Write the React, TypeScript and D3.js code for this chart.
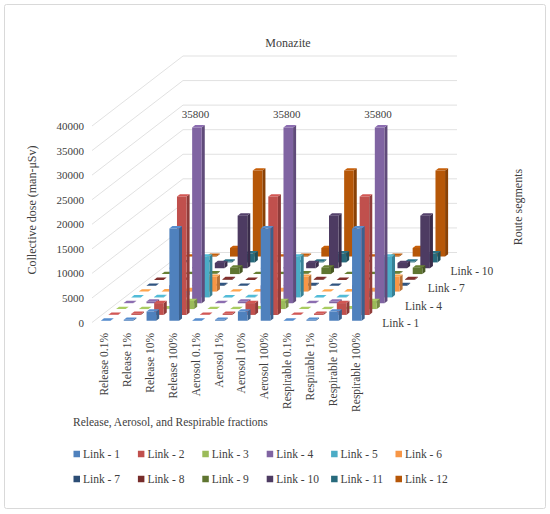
import * as d3 from 'd3'

const categories = [
  'Release 0.1%', 'Release 1%', 'Release 10%', 'Release 100%',
  'Aerosol 0.1%', 'Aerosol 1%', 'Aerosol 10%', 'Aerosol 100%',
  'Respirable 0.1%', 'Respirable 1%', 'Respirable 10%', 'Respirable 100%',
]

const links = [
  'Link - 1', 'Link - 2', 'Link - 3', 'Link - 4', 'Link - 5', 'Link - 6',
  'Link - 7', 'Link - 8', 'Link - 9', 'Link - 10', 'Link - 11', 'Link - 12',
]

// collective dose (man-µSv), one value per category
const link1 = [18.8, 188, 1880, 18800, 18.8, 188, 1880, 18800, 18.8, 188, 1880, 18800]
const link2 = [24.1, 241, 2410, 24100, 24.1, 241, 2410, 24100, 24.1, 241, 2410, 24100]
const link3 = [1.65, 16.5, 165, 1650, 1.65, 16.5, 165, 1650, 1.65, 16.5, 165, 1650]
const link4 = [35.8, 358, 3580, 35800, 35.8, 358, 3580, 35800, 35.8, 358, 3580, 35800]
const link5 = [8.3, 83, 830, 8300, 8.3, 83, 830, 8300, 8.3, 83, 830, 8300]
const link6 = [3, 30, 300, 3000, 3, 30, 300, 3000, 3, 30, 300, 3000]
const link7 = [0.15, 1.5, 15, 150, 0.15, 1.5, 15, 150, 0.15, 1.5, 15, 150]
const link8 = [0.15, 1.5, 15, 150, 0.15, 1.5, 15, 150, 0.15, 1.5, 15, 150]
const link9 = [1.3, 13, 130, 1300, 1.3, 13, 130, 1300, 1.3, 13, 130, 1300]
const link10 = [10.7, 107, 1070, 10700, 10.7, 107, 1070, 10700, 10.7, 107, 1070, 10700]
const link11 = [1.85, 18.5, 185, 1850, 1.85, 18.5, 185, 1850, 1.85, 18.5, 185, 1850]
const link12 = [17.5, 175, 1750, 17500, 17.5, 175, 1750, 17500, 17.5, 175, 1750, 17500]

const series = [link1, link2, link3, link4, link5, link6, link7, link8, link9, link10, link11, link12]

const linkColors = [
  '#4F81BD', '#C0504D', '#9BBB59', '#8064A2', '#4BACC6', '#F79646',
  '#2C4D75', '#772C2A', '#5F7530', '#4D3B62', '#276A7C', '#B65708',
]

const yTicks = [0, 5000, 10000, 15000, 20000, 25000, 30000, 35000, 40000]

const W = 550
const H = 514
const floor = { x: 92, y: 322.5, width: 274 }
const depth = { dx: 91, dy: -70 }
const plotHeight = 196.5
const font = '"Liberation Serif", "Times New Roman", serif'
const textColor = '#404040'

export default function App() {
  const x = d3.scaleBand().domain(categories).range([0, floor.width]).paddingInner(0.58).paddingOuter(0.29)
  const z = d3.scaleBand().domain(links).range([0, 1]).paddingInner(0.6).paddingOuter(0.3)
  const y = d3.scaleLinear().domain([0, 40000]).range([0, plotHeight])

  const proj = (px: number, pz: number, v: number): [number, number] => [
    floor.x + px + pz * depth.dx,
    floor.y - y(v) + pz * depth.dy,
  ]
  const poly = (pts: [number, number][]) => pts.map((p) => p.join(',')).join(' ')

  const bw = x.bandwidth()
  const zb = z.bandwidth()

  // back to front, left to right
  const bars: JSX.Element[] = []
  const labels: JSX.Element[] = []
  for (let li = links.length - 1; li >= 0; li--) {
    const color = d3.color(linkColors[li])!
    const side = color.darker(0.8).formatHex()
    const top = color.brighter(0.25).formatHex()
    categories.forEach((c, ci) => {
      const v = series[li][ci]
      const x0 = x(c)!
      const x1 = x0 + bw
      const z0 = z(links[li])!
      const z1 = z0 + zb
      bars.push(
        <g key={`${li}-${ci}`}>
          <polygon points={poly([proj(x1, z0, 0), proj(x1, z1, 0), proj(x1, z1, v), proj(x1, z0, v)])} fill={side} />
          <polygon points={poly([proj(x0, z0, v), proj(x1, z0, v), proj(x1, z1, v), proj(x0, z1, v)])} fill={top} />
          <polygon points={poly([proj(x0, z0, 0), proj(x1, z0, 0), proj(x1, z0, v), proj(x0, z0, v)])} fill={linkColors[li]} />
        </g>,
      )
      if (v >= 30000) {
        const p = proj(x0 + bw / 2, z0, v)
        labels.push(
          <text key={`l${li}-${ci}`} x={p[0] - 1.5} y={p[1] - 9} textAnchor="middle" fontSize={11} fill={textColor}>
            {d3.format('d')(v)}
          </text>,
        )
      }
    })
  }

  return (
    <svg
      width={W}
      height={H}
      viewBox={`0 0 ${W} ${H}`}
      style={{ position: 'absolute', left: 0, top: 0, background: '#fff' }}
      fontFamily={font}
    >
      <rect x={4.5} y={4.5} width={541} height={504} fill="#fff" stroke="#d9d9d9" strokeWidth={1} rx={2} />

      <text x={288} y={43} textAnchor="middle" dominantBaseline="central" fontSize={12} fill={textColor}>
        Monazite
      </text>

      {/* side and back wall gridlines */}
      <g stroke="#d9d9d9" strokeWidth={0.8} fill="none">
        {yTicks.map((t) => {
          const a = proj(0, 0, t)
          const b = proj(0, 1, t)
          const c = proj(floor.width, 1, t)
          return <polyline key={t} points={poly([a, b, c])} />
        })}
      </g>

      {yTicks.map((t) => (
        <text key={t} x={84} y={floor.y - y(t)} textAnchor="end" dominantBaseline="central" fontSize={11} fill={textColor}>
          {t}
        </text>
      ))}

      <g>{bars}</g>
      <g>{labels}</g>

      {categories.map((c) => {
        const cx = floor.x + x(c)! + bw / 2 + 1
        return (
          <text
            key={c}
            x={cx}
            y={333}
            transform={`rotate(-90, ${cx}, 333)`}
            textAnchor="end"
            dominantBaseline="central"
            fontSize={11.5}
            fill={textColor}
          >
            {c}
          </text>
        )
      })}

      {links.map((l, i) => {
        if (i % 3 !== 0) return null
        const p = proj(floor.width, z(l)! + zb / 2, 0)
        return (
          <text key={l} x={p[0] + 12.5} y={p[1] + 3.5} dominantBaseline="central" fontSize={11.5} fill={textColor}>
            {l}
          </text>
        )
      })}

      <text x={32} y={210} transform="rotate(-90, 32, 210)" textAnchor="middle" dominantBaseline="central" fontSize={12} fill={textColor}>
        Collective dose (man-μSv)
      </text>
      <text x={518} y={207} transform="rotate(-90, 518, 207)" textAnchor="middle" dominantBaseline="central" fontSize={12} fill={textColor}>
        Route segments
      </text>
      <text x={73} y={422} dominantBaseline="central" fontSize={11.5} fill={textColor}>
        Release, Aerosol, and Respirable fractions
      </text>

      {links.map((l, i) => {
        const lx = 73.5 + (i % 6) * 64.4
        const ly = i < 6 ? 454 : 479
        return (
          <g key={l}>
            <rect x={lx} y={ly - 3.25} width={6.5} height={6.5} fill={linkColors[i]} />
            <text x={lx + 9.5} y={ly} dominantBaseline="central" fontSize={11.5} fill={textColor}>
              {l}
            </text>
          </g>
        )
      })}
    </svg>
  )
}
